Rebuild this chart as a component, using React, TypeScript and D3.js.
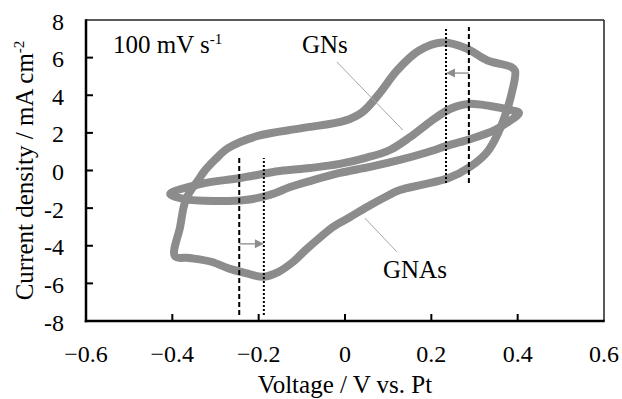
import React from "react";
import * as d3 from "d3";

// axis ticks
const xTicks = [-0.6, -0.4, -0.2, 0, 0.2, 0.4, 0.6];
const yTicks = [-8, -6, -4, -2, 0, 2, 4, 6, 8];

// GNs cyclic voltammogram (V, mA cm-2), traced around the loop
const gnsLoop: [number, number][] = [
  [-0.394, -4.55], [-0.382, -3.0], [-0.368, -1.5], [-0.338, -0.45], [-0.329, -0.13],
  [-0.3, 0.6], [-0.27, 1.2], [-0.2, 1.85], [-0.1, 2.25], [0, 2.65], [0.04, 3.1],
  [0.08, 4.1], [0.12, 5.3], [0.17, 6.35], [0.225, 6.8], [0.28, 6.5], [0.33, 5.85],
  [0.385, 5.5], [0.394, 5.3], [0.385, 4.0], [0.372, 3.0], [0.355, 2.0], [0.33, 1.0],
  [0.29, 0.2], [0.24, -0.4], [0.18, -0.75], [0.127, -1.04], [0.09, -1.45], [0.051, -1.94],
  [0.01, -2.5], [-0.028, -3.0], [-0.06, -3.6], [-0.09, -4.2], [-0.12, -4.85],
  [-0.155, -5.4], [-0.19, -5.65], [-0.23, -5.45], [-0.27, -5.2], [-0.31, -4.85], [-0.36, -4.65],
];

// GNAs cyclic voltammogram
const gnasLoop: [number, number][] = [
  [-0.405, -1.25], [-0.336, -0.72], [-0.243, -0.4], [-0.151, -0.03], [-0.081, 0.13],
  [-0.012, 0.35], [0.046, 0.66], [0.104, 1.09], [0.151, 1.78], [0.197, 2.58],
  [0.243, 3.27], [0.285, 3.54], [0.336, 3.43], [0.382, 3.22], [0.403, 3.06],
  [0.378, 2.58], [0.347, 2.15], [0.29, 1.67], [0.243, 1.36], [0.185, 0.93],
  [0.127, 0.56], [0.058, 0.19], [-0.012, -0.13], [-0.081, -0.56], [-0.127, -0.88],
  [-0.174, -1.3], [-0.232, -1.57], [-0.301, -1.62], [-0.371, -1.52],
];

// peak positions (V) and the current range of the marker lines
const anodicPeakGNAs = 0.287;
const anodicPeakGNs = 0.234;
const cathodicPeakGNAs = -0.245;
const cathodicPeakGNs = -0.188;
const anodicMarkRange = [-0.66, 7.63];
const cathodicMarkRange = [-7.68, 0.66];
const anodicArrowJ = 5.18;
const cathodicArrowJ = -3.9;

const width = 622;
const height = 399;
const margin = { top: 20, right: 18, bottom: 78, left: 86 };

const font = "'Liberation Serif', 'Times New Roman', Times, serif";

export default function App() {
  const x = d3.scaleLinear().domain([-0.6, 0.6]).range([margin.left, width - margin.right]);
  const y = d3.scaleLinear().domain([-8, 8]).range([height - margin.bottom, margin.top]);
  const [x0, x1] = x.range();
  const [y0, y1] = y.range();

  const loop = d3
    .line<[number, number]>()
    .x((d) => x(d[0]))
    .y((d) => y(d[1]))
    .curve(d3.curveCatmullRomClosed.alpha(0.5));

  const arrow = (from: number, to: number, j: number) => {
    const dir = Math.sign(to - from);
    const tx = x(to);
    const ty = y(j);
    const head = 9;
    const hw = 4.5;
    return (
      <g>
        <line x1={x(from)} y1={ty} x2={tx - dir * head} y2={ty} stroke="#8c8c8c" strokeWidth={1.3} />
        <path
          d={`M${tx},${ty}L${tx - dir * head},${ty - hw}L${tx - dir * head},${ty + hw}Z`}
          fill="#8c8c8c"
        />
      </g>
    );
  };

  return (
    <svg
      width={width}
      height={height}
      style={{ position: "absolute", left: 0, top: 0, display: "block", background: "#fff", fontFamily: font }}
    >
      <rect width={width} height={height} fill="#fff" />

      {/* CV loops */}
      <path d={loop(gnasLoop) || ""} fill="none" stroke="#8c8c8c" strokeWidth={8} strokeLinejoin="round" />
      <path d={loop(gnsLoop) || ""} fill="none" stroke="#8c8c8c" strokeWidth={8} strokeLinejoin="round" />

      {/* peak markers */}
      <line x1={x(anodicPeakGNs)} x2={x(anodicPeakGNs)} y1={y(anodicMarkRange[0])} y2={y(anodicMarkRange[1])}
        stroke="#000" strokeWidth={2} strokeDasharray="2,2" />
      <line x1={x(anodicPeakGNAs)} x2={x(anodicPeakGNAs)} y1={y(anodicMarkRange[0])} y2={y(anodicMarkRange[1])}
        stroke="#000" strokeWidth={2} strokeDasharray="5,3" />
      <line x1={x(cathodicPeakGNs)} x2={x(cathodicPeakGNs)} y1={y(cathodicMarkRange[0])} y2={y(cathodicMarkRange[1])}
        stroke="#000" strokeWidth={2} strokeDasharray="2,2" />
      <line x1={x(cathodicPeakGNAs)} x2={x(cathodicPeakGNAs)} y1={y(cathodicMarkRange[0])} y2={y(cathodicMarkRange[1])}
        stroke="#000" strokeWidth={2} strokeDasharray="5,3" />
      {arrow(anodicPeakGNAs, anodicPeakGNs, anodicArrowJ)}
      {arrow(cathodicPeakGNAs, cathodicPeakGNs, cathodicArrowJ)}

      {/* leaders and labels */}
      <line x1={x(-0.019)} y1={y(5.77)} x2={x(0.134)} y2={y(2.15)} stroke="#a6a6a6" strokeWidth={1} />
      <line x1={x(0.046)} y1={y(-2.53)} x2={x(0.12)} y2={y(-4.32)} stroke="#a6a6a6" strokeWidth={1} />
      <text x={302} y={53} fontSize={25}>GNs</text>
      <text x={383} y={278} fontSize={25}>GNAs</text>
      <text x={113} y={53} fontSize={25}>
        100 mV s<tspan fontSize={15} dy={-9}>-1</tspan>
      </text>

      {/* frame */}
      <line x1={x0} x2={x1} y1={y1} y2={y1} stroke="#222" strokeWidth={1.5} />
      <line x1={x1} x2={x1} y1={y1} y2={y0} stroke="#222" strokeWidth={1.5} />
      <line x1={x0} x2={x0} y1={y1 - 0.75} y2={y0 + 1.25} stroke="#000" strokeWidth={2.5} />
      <line x1={x0 - 1.25} x2={x1 + 0.75} y1={y0} y2={y0} stroke="#000" strokeWidth={2.5} />

      {/* ticks */}
      {xTicks.slice(1, -1).map((t) => (
        <line key={`xt${t}`} x1={x(t)} x2={x(t)} y1={y0} y2={y0 - 7} stroke="#000" strokeWidth={2} />
      ))}
      {yTicks.slice(1, -1).map((t) => (
        <line key={`yt${t}`} x1={x0} x2={x0 + 7} y1={y(t)} y2={y(t)} stroke="#000" strokeWidth={2} />
      ))}
      {xTicks.map((t) => (
        <text key={`xl${t}`} x={x(t)} y={y0 + 41} fontSize={24} textAnchor="middle">
          {d3.format("")(t)}
        </text>
      ))}
      {yTicks.map((t) => (
        <text key={`yl${t}`} x={64} y={y(t) + 9.5} fontSize={24} textAnchor="end">
          {t}
        </text>
      ))}

      {/* axis titles */}
      <text x={(x0 + x1) / 2} y={393} fontSize={25} textAnchor="middle">
        Voltage / V vs. Pt
      </text>
      <text transform={`translate(33,${(y0 + y1) / 2}) rotate(-90)`} fontSize={25} textAnchor="middle">
        Current density / mA cm<tspan fontSize={15} dy={-9}>-2</tspan>
      </text>
    </svg>
  );
}
